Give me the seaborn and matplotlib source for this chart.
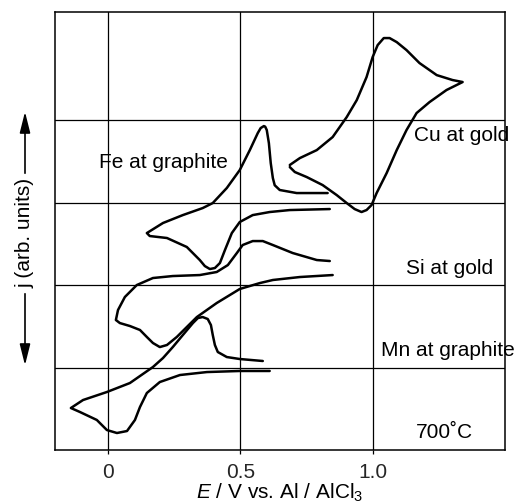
import matplotlib
matplotlib.use("Agg")
import matplotlib.pyplot as plt
import seaborn as sns
import pandas as pd

# ---- data (E in V vs. Al/AlCl3, j in arbitrary units, curves stacked) ----
cu_E = [0.687, 0.725, 0.789, 0.849, 0.902, 0.940, 0.977, 1.000, 1.019, 1.042, 1.064, 1.091,
        1.128, 1.177, 1.242, 1.302, 1.340,
        1.279, 1.215, 1.166, 1.128, 1.091, 1.053, 1.015, 0.996, 0.977, 0.958, 0.932, 0.902,
        0.864, 0.811, 0.751, 0.706, 0.687]
cu_j = [3.455, 3.539, 3.636, 3.794, 4.036, 4.242, 4.521, 4.764, 4.909, 4.994, 4.994, 4.945,
        4.848, 4.691, 4.545, 4.485, 4.461,
        4.364, 4.218, 4.085, 3.879, 3.636, 3.358, 3.115, 2.970, 2.909, 2.885, 2.921, 2.994,
        3.091, 3.212, 3.309, 3.370, 3.430]

fe_E = [0.830, 0.713, 0.649, 0.630, 0.623, 0.615, 0.608, 0.600, 0.594, 0.589, 0.577, 0.566,
        0.536, 0.498, 0.449, 0.396, 0.358, 0.283, 0.208, 0.147,
        0.158, 0.223, 0.298, 0.347, 0.366, 0.385, 0.404, 0.423, 0.442, 0.468, 0.498, 0.547,
        0.611, 0.687, 0.838]
fe_j = [3.115, 3.115, 3.152, 3.210, 3.297, 3.479, 3.721, 3.879, 3.920, 3.927, 3.903, 3.842,
        3.636, 3.394, 3.176, 2.994, 2.933, 2.848, 2.752, 2.630,
        2.594, 2.570, 2.461, 2.303, 2.230, 2.194, 2.206, 2.267, 2.424, 2.630, 2.764, 2.848,
        2.885, 2.909, 2.921]

si_E = [0.838, 0.789, 0.698, 0.623, 0.585, 0.547, 0.509, 0.487, 0.453, 0.411, 0.347, 0.245,
        0.170, 0.109, 0.064, 0.038, 0.030,
        0.045, 0.083, 0.121, 0.147, 0.170, 0.196, 0.223, 0.260, 0.298, 0.336, 0.411, 0.498,
        0.574, 0.623, 0.725, 0.849]
si_j = [2.291, 2.303, 2.388, 2.485, 2.533, 2.533, 2.485, 2.388, 2.242, 2.158, 2.121, 2.109,
        2.085, 2.000, 1.855, 1.697, 1.576,
        1.539, 1.503, 1.455, 1.370, 1.297, 1.248, 1.273, 1.370, 1.491, 1.612, 1.782, 1.952,
        2.024, 2.061, 2.097, 2.121]

mn_E = [0.585, 0.498, 0.449, 0.415, 0.404, 0.396, 0.389, 0.377, 0.358, 0.340, 0.321, 0.283,
        0.245, 0.208, 0.170, 0.083, -0.004, -0.094, -0.140,
        -0.106, -0.042, -0.004, 0.034, 0.072, 0.102, 0.121, 0.147, 0.196, 0.272, 0.374,
        0.498, 0.611]
mn_j = [1.079, 1.103, 1.127, 1.188, 1.273, 1.394, 1.515, 1.588, 1.612, 1.600, 1.539, 1.394,
        1.248, 1.115, 1.006, 0.812, 0.703, 0.606, 0.509,
        0.461, 0.364, 0.242, 0.206, 0.230, 0.364, 0.521, 0.691, 0.824, 0.909, 0.945,
        0.958, 0.958]

labels = ["Fe at graphite", "Cu at gold", "Si at gold", "Mn at graphite", "700˚C"]
label_E = [-0.034, 1.155, 1.125, 1.030, 1.162]
label_j = [3.49, 3.818, 2.206, 1.212, 0.218]

x_ticks = [0, 0.5, 1.0]
x_ticklabels = ["0", "0.5", "1.0"]
y_grid = [1, 2, 3, 4]

# ---- style ----
sns.set_theme(style="white")
plt.rcParams["font.family"] = ["Liberation Sans", "DejaVu Sans"]
plt.rcParams["mathtext.fontset"] = "custom"
plt.rcParams["mathtext.rm"] = "Liberation Sans"
plt.rcParams["mathtext.it"] = "Liberation Sans:italic"

fig = plt.figure(figsize=(5.2, 5.03), dpi=100)
ax = fig.add_axes([55 / 520, 53 / 503, 450 / 520, 438 / 503])

curves = {"Cu": (cu_E, cu_j), "Fe": (fe_E, fe_j), "Si": (si_E, si_j), "Mn": (mn_E, mn_j)}
for name, (E, j) in curves.items():
    df = pd.DataFrame({"E": E, "j": j})
    sns.lineplot(data=df, x="E", y="j", sort=False, estimator=None, color="black",
                 linewidth=1.8, ax=ax)
for line in ax.get_lines():
    line.set_solid_joinstyle("round")
    line.set_solid_capstyle("round")

ax.set_xlim(-0.2, 1.5)
ax.set_ylim(0, 5.31)
ax.set_xticks(x_ticks)
ax.set_xticklabels(x_ticklabels)
ax.set_yticks(y_grid)
ax.set_yticklabels([])
ax.grid(True, color="black", linewidth=0.9)
ax.set_axisbelow(True)
for s in ax.spines.values():
    s.set_color("black")
    s.set_linewidth(1.1)
ax.tick_params(axis="x", length=3, width=0.9, color="black", direction="out",
               labelsize=15, pad=6, bottom=True)
ax.tick_params(axis="y", length=0, left=False)

for t, xe, yj in zip(labels, label_E, label_j):
    ax.text(xe, yj, t, ha="left", va="center", fontsize=15, color="black",
            family=["Liberation Sans", "DejaVu Sans"])

ax.set_xlabel(r"$E$ / V vs. Al / AlCl$_3$", fontsize=15, labelpad=0, color="black")
ax.set_ylabel("")

# y-axis label with arrows
fx = 25 / 520
fig.text(fx, 1 - 233 / 503, "j (arb. units)", rotation=90, ha="center", va="center",
         fontsize=15, color="black")
arrow_kw = dict(arrowstyle="-|>,head_length=0.8,head_width=0.2", color="black", lw=1.2,
                mutation_scale=16)
ax.annotate("", xy=(fx, 1 - 109 / 503), xytext=(fx, 1 - 176 / 503),
            xycoords="figure fraction", textcoords="figure fraction", arrowprops=arrow_kw)
ax.annotate("", xy=(fx, 1 - 368 / 503), xytext=(fx, 1 - 291 / 503),
            xycoords="figure fraction", textcoords="figure fraction", arrowprops=arrow_kw)

fig.savefig("out.png", dpi=100, facecolor="white")
